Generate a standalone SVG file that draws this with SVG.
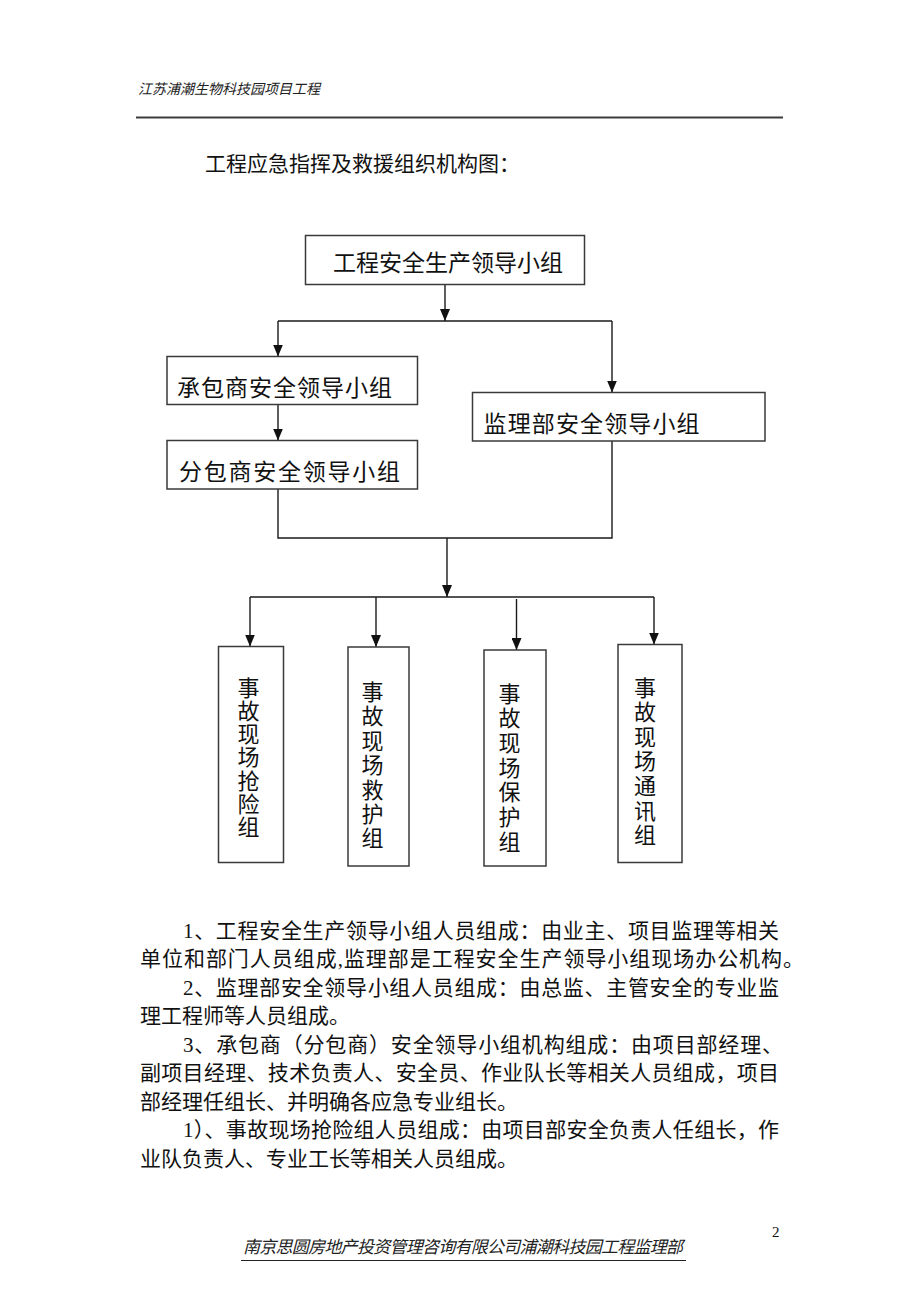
<svg xmlns="http://www.w3.org/2000/svg" width="920" height="1302" viewBox="0 0 920 1302">
<defs>
<style>
.t{font-family:'Liberation Serif','Noto Sans CJK SC',serif;fill:#111;}
.hf{font-family:'Noto Sans CJK SC',sans-serif;font-style:italic;fill:#222;}
.box{fill:#fff;stroke:#3a3a3a;stroke-width:1.5;}
.ln{fill:none;stroke:#1a1a1a;stroke-width:1.4;}
.arr{fill:none;stroke:#1a1a1a;stroke-width:1.4;marker-end:url(#ah);}
</style>
<marker id="ah" viewBox="0 0 12 10" refX="12" refY="5" markerWidth="12" markerHeight="10" markerUnits="userSpaceOnUse" orient="auto">
<path d="M0,0 L12,5 L0,10 z" fill="#111"/>
</marker>
</defs>
<rect width="920" height="1302" fill="#fff"/>

<g id="header">
<text class="hf" x="138" y="94" font-size="14">江苏浦潮生物科技园项目工程</text>
<line x1="136" y1="117.5" x2="783" y2="117.5" stroke="#3a3d3a" stroke-width="2"/>
</g>

<text class="t" x="205" y="170.5" font-size="21">工程应急指挥及救援组织机构图：</text>

<g id="connectors">
<path class="arr" d="M445,284.5 V321"/>
<path class="ln" d="M278,321 H612"/>
<path class="arr" d="M278,321 V356.5"/>
<path class="arr" d="M612,321 V392.5"/>
<path class="arr" d="M278,404.5 V440.5"/>
<path class="ln" d="M278,489 V538 H612 V441"/>
<path class="arr" d="M447,538 V597"/>
<path class="ln" d="M250,597 H654"/>
<path class="arr" d="M250,597 V646.5"/>
<path class="arr" d="M376,597 V647"/>
<path class="arr" d="M516.5,599 V650"/>
<path class="arr" d="M654,597 V644.5"/>
</g>

<g id="node-top">
<rect class="box" x="305.5" y="235.5" width="279" height="49"/>
<text class="t" x="333" y="270.5" font-size="23" textLength="230" lengthAdjust="spacing">工程安全生产领导小组</text>
</g>
<g id="node-contractor">
<rect class="box" x="167" y="356.5" width="250.5" height="48"/>
<text class="t" x="177" y="396" font-size="23" textLength="215" lengthAdjust="spacing">承包商安全领导小组</text>
</g>
<g id="node-subcontractor">
<rect class="box" x="167" y="440.5" width="250.5" height="48.5"/>
<text class="t" x="179" y="480" font-size="23" textLength="221" lengthAdjust="spacing">分包商安全领导小组</text>
</g>
<g id="node-supervision">
<rect class="box" x="472.5" y="392.5" width="292.5" height="48.5"/>
<text class="t" x="483.5" y="432" font-size="23" textLength="216" lengthAdjust="spacing">监理部安全领导小组</text>
</g>

<g id="node-g1">
<rect class="box" x="218.5" y="646.5" width="65" height="216"/>
<text class="t" font-size="22" text-anchor="middle">
<tspan x="248.5" y="695.5">事</tspan><tspan x="248.5" y="718.8">故</tspan><tspan x="248.5" y="742.1">现</tspan><tspan x="248.5" y="765.4">场</tspan><tspan x="248.5" y="788.7">抢</tspan><tspan x="248.5" y="812">险</tspan><tspan x="248.5" y="835.3">组</tspan>
</text>
</g>
<g id="node-g2">
<rect class="box" x="348" y="647" width="61" height="219"/>
<text class="t" font-size="22" text-anchor="middle">
<tspan x="372.5" y="700">事</tspan><tspan x="372.5" y="724.4">故</tspan><tspan x="372.5" y="748.8">现</tspan><tspan x="372.5" y="773.2">场</tspan><tspan x="372.5" y="797.6">救</tspan><tspan x="372.5" y="822">护</tspan><tspan x="372.5" y="846.4">组</tspan>
</text>
</g>
<g id="node-g3">
<rect class="box" x="484" y="650" width="62" height="216"/>
<text class="t" font-size="22" text-anchor="middle">
<tspan x="509.5" y="701.5">事</tspan><tspan x="509.5" y="726.2">故</tspan><tspan x="509.5" y="750.9">现</tspan><tspan x="509.5" y="775.6">场</tspan><tspan x="509.5" y="800.3">保</tspan><tspan x="509.5" y="825">护</tspan><tspan x="509.5" y="849.7">组</tspan>
</text>
</g>
<g id="node-g4">
<rect class="box" x="618" y="644.5" width="64" height="218"/>
<text class="t" font-size="22" text-anchor="middle">
<tspan x="645" y="695.5">事</tspan><tspan x="645" y="720.1">故</tspan><tspan x="645" y="744.7">现</tspan><tspan x="645" y="769.3">场</tspan><tspan x="645" y="793.9">通</tspan><tspan x="645" y="818.5">讯</tspan><tspan x="645" y="843.1">组</tspan>
</text>
</g>

<g id="body" class="t" font-size="21">
<text class="t" x="183" y="938" textLength="596" lengthAdjust="spacing">1、工程安全生产领导小组人员组成：由业主、项目监理等相关</text>
<text class="t" x="140" y="966" textLength="664" lengthAdjust="spacing">单位和部门人员组成,监理部是工程安全生产领导小组现场办公机构。</text>
<text class="t" x="183" y="994.5" textLength="596" lengthAdjust="spacing">2、监理部安全领导小组人员组成：由总监、主管安全的专业监</text>
<text class="t" x="140" y="1023">理工程师等人员组成。</text>
<text class="t" x="183" y="1051.5" textLength="600" lengthAdjust="spacing">3、承包商（分包商）安全领导小组机构组成：由项目部经理、</text>
<text class="t" x="140" y="1080" textLength="639" lengthAdjust="spacing">副项目经理、技术负责人、安全员、作业队长等相关人员组成，项目</text>
<text class="t" x="140" y="1108.5">部经理任组长、并明确各应急专业组长。</text>
<text class="t" x="183" y="1137" textLength="596" lengthAdjust="spacing">1）、事故现场抢险组人员组成：由项目部安全负责人任组长，作</text>
<text class="t" x="140" y="1166">业队负责人、专业工长等相关人员组成。</text>
</g>

<g id="footer">
<text class="t" x="772" y="1237" font-size="15">2</text>
<text class="hf" x="243" y="1253" font-size="17" textLength="440" lengthAdjust="spacing">南京思圆房地产投资管理咨询有限公司浦潮科技园工程监理部</text>
<line x1="241" y1="1260.5" x2="686" y2="1260.5" stroke="#222" stroke-width="1.2"/>
</g>
</svg>
